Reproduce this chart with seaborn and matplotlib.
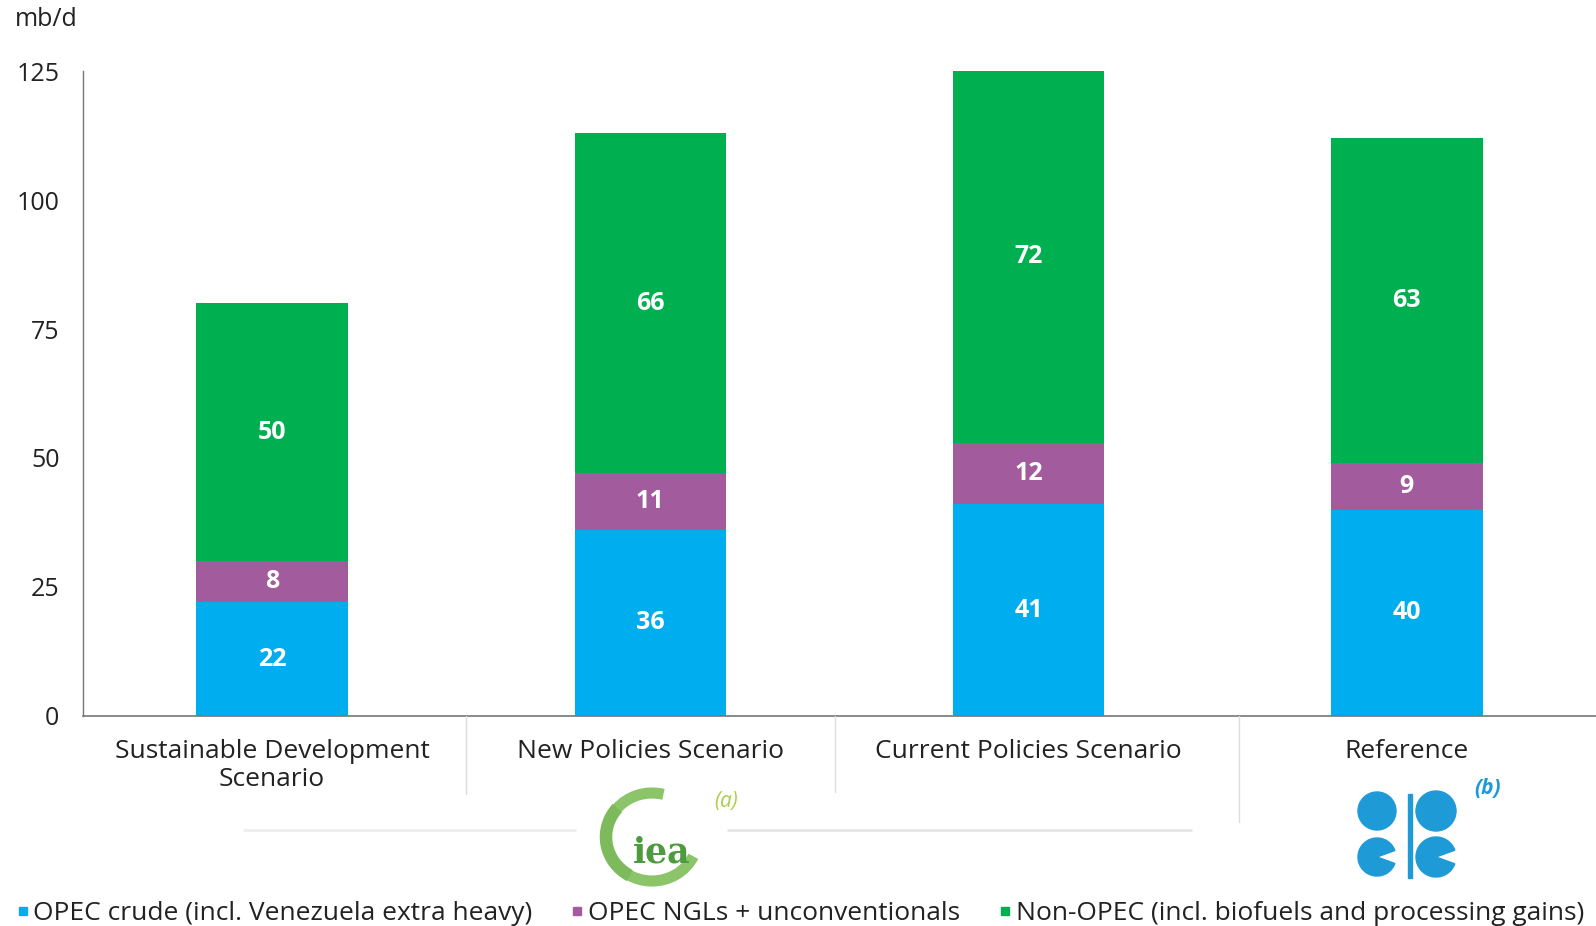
import numpy as np
import pandas as pd
import matplotlib
matplotlib.use("Agg")
import matplotlib.pyplot as plt
import seaborn as sns
from matplotlib.lines import Line2D
from matplotlib.patches import Rectangle, Arc, Wedge, Circle

# dados (mb/d)
cenarios = ["Sustainable Development\nScenario", "New Policies Scenario",
            "Current Policies Scenario", "Reference"]
opec_crude = [22, 36, 41, 40]
opec_ngl = [8, 11, 12, 9]
non_opec = [50, 66, 72, 63]
series = ["OPEC crude (incl. Venezuela extra heavy)", "OPEC NGLs + unconventionals",
          "Non-OPEC (incl. biofuels and processing gains)"]
cores = ["#00AEEF", "#A25C9E", "#00B050"]
yticks = [0, 25, 50, 75, 100, 125]

sns.set_style("white")
plt.rcParams["font.family"] = ["Open Sans", "DejaVu Sans"]

df = pd.DataFrame({"cenario": cenarios, "crude": opec_crude,
                   "ngl": opec_ngl, "non": non_opec})
df["c1"] = df["crude"]
df["c2"] = df["crude"] + df["ngl"]
df["c3"] = df["c2"] + df["non"]

W, H = 1596, 926
def fx(px):
    return px / W
def fy(py):
    return 1 - py / H

fig = plt.figure(figsize=(15.96, 9.26), dpi=100)
ax = fig.add_axes([0.052, 0.227, 0.948, 0.696])

# barras empilhadas: desenha do total para baixo
for col, cor in zip(["c3", "c2", "c1"], cores[::-1]):
    sns.barplot(data=df, x="cenario", y=col, color=cor, width=0.4,
                saturation=1, ax=ax, linewidth=0)

# rotulos dentro dos segmentos
for i in range(len(cenarios)):
    base = 0
    for v in [opec_crude[i], opec_ngl[i], non_opec[i]]:
        ax.text(i, base + v / 2, str(v), ha="center", va="center",
                color="white", fontsize=18, fontweight="bold")
        base += v

ax.set_xlim(-0.5, 3.5)
ax.set_ylim(0, 125)
ax.set_yticks(yticks)
ax.set_xlabel("")
ax.set_ylabel("")
ax.tick_params(axis="y", labelsize=18, length=0, pad=17, colors="#222222")
ax.tick_params(axis="x", labelsize=19, length=0, pad=17, colors="#222222")
for lab in ax.get_xticklabels():
    lab.set_linespacing(1.15)
for s in ["top", "right"]:
    ax.spines[s].set_visible(False)
ax.spines["left"].set_color("#777777")
ax.spines["bottom"].set_color("#777777")
ax.spines["left"].set_linewidth(1)
ax.spines["bottom"].set_linewidth(1.2)

fig.text(fx(15), fy(20), "mb/d", fontsize=18, color="#222222", va="center")

# separadores das categorias
for xp, yp in [(466, 794), (835, 792), (1239, 822)]:
    fig.add_artist(Line2D([fx(xp), fx(xp)], [0.227, fy(yp)], color="#dddddd", lw=1))
fig.add_artist(Line2D([fx(244), fx(575)], [fy(830), fy(830)], color="#eeeeee", lw=2))
fig.add_artist(Line2D([fx(728), fx(1191)], [fy(830), fy(830)], color="#e6e6e6", lw=2))

# logo IEA (aproximado) - eixo em pixels (y invertido)
lax = fig.add_axes([fx(595), fy(890), 120 / W, 110 / H])
lax.set_xlim(595, 715)
lax.set_ylim(890, 780)
lax.axis("off")
lax.add_patch(Arc((652, 837), 92, 88, theta1=25, theta2=285,
                  color="#8CC46A", lw=8))
lax.add_patch(Arc((652, 837), 92, 88, theta1=120, theta2=220,
                  color="#7DBA5C", lw=9))
lax.text(662, 852, "iea", fontsize=25, family="DejaVu Serif",
         color="#4E9A3E", fontweight="bold", ha="center", va="center")
fig.text(fx(726), fy(802), "(a)", fontsize=15, color="#A8CF45",
         style="italic", ha="center", va="center")

# logo OPEC (aproximado) - eixo em pixels
azul = "#1E9BD7"
oax = fig.add_axes([fx(1350), fy(890), 116 / W, 110 / H])
oax.set_xlim(1350, 1466)
oax.set_ylim(890, 780)
oax.axis("off")
oax.add_patch(Circle((1377, 811), 19, color=azul))
oax.add_patch(Circle((1436, 811), 20, color=azul))
oax.add_patch(Wedge((1377, 857), 19, 20, 340, color=azul))
oax.add_patch(Wedge((1436, 857), 20, 20, 340, color=azul))
oax.add_patch(Rectangle((1408, 794), 4, 84, color=azul))
fig.text(fx(1488), fy(788), "(b)", fontsize=15, color="#1E9BD7",
         style="italic", fontweight="bold", ha="center", va="center")

# legenda
handles = [Line2D([], [], marker="s", ls="", color=c, markersize=6)
           for c in cores]
fig.legend(handles, series, loc="center", bbox_to_anchor=(0.5, 0.013),
           ncol=3, frameon=False, fontsize=19, handletextpad=0.0,
           columnspacing=1.3, handlelength=0.8, labelcolor="#222222",
           borderpad=0)

fig.savefig("out.png", dpi=100)
